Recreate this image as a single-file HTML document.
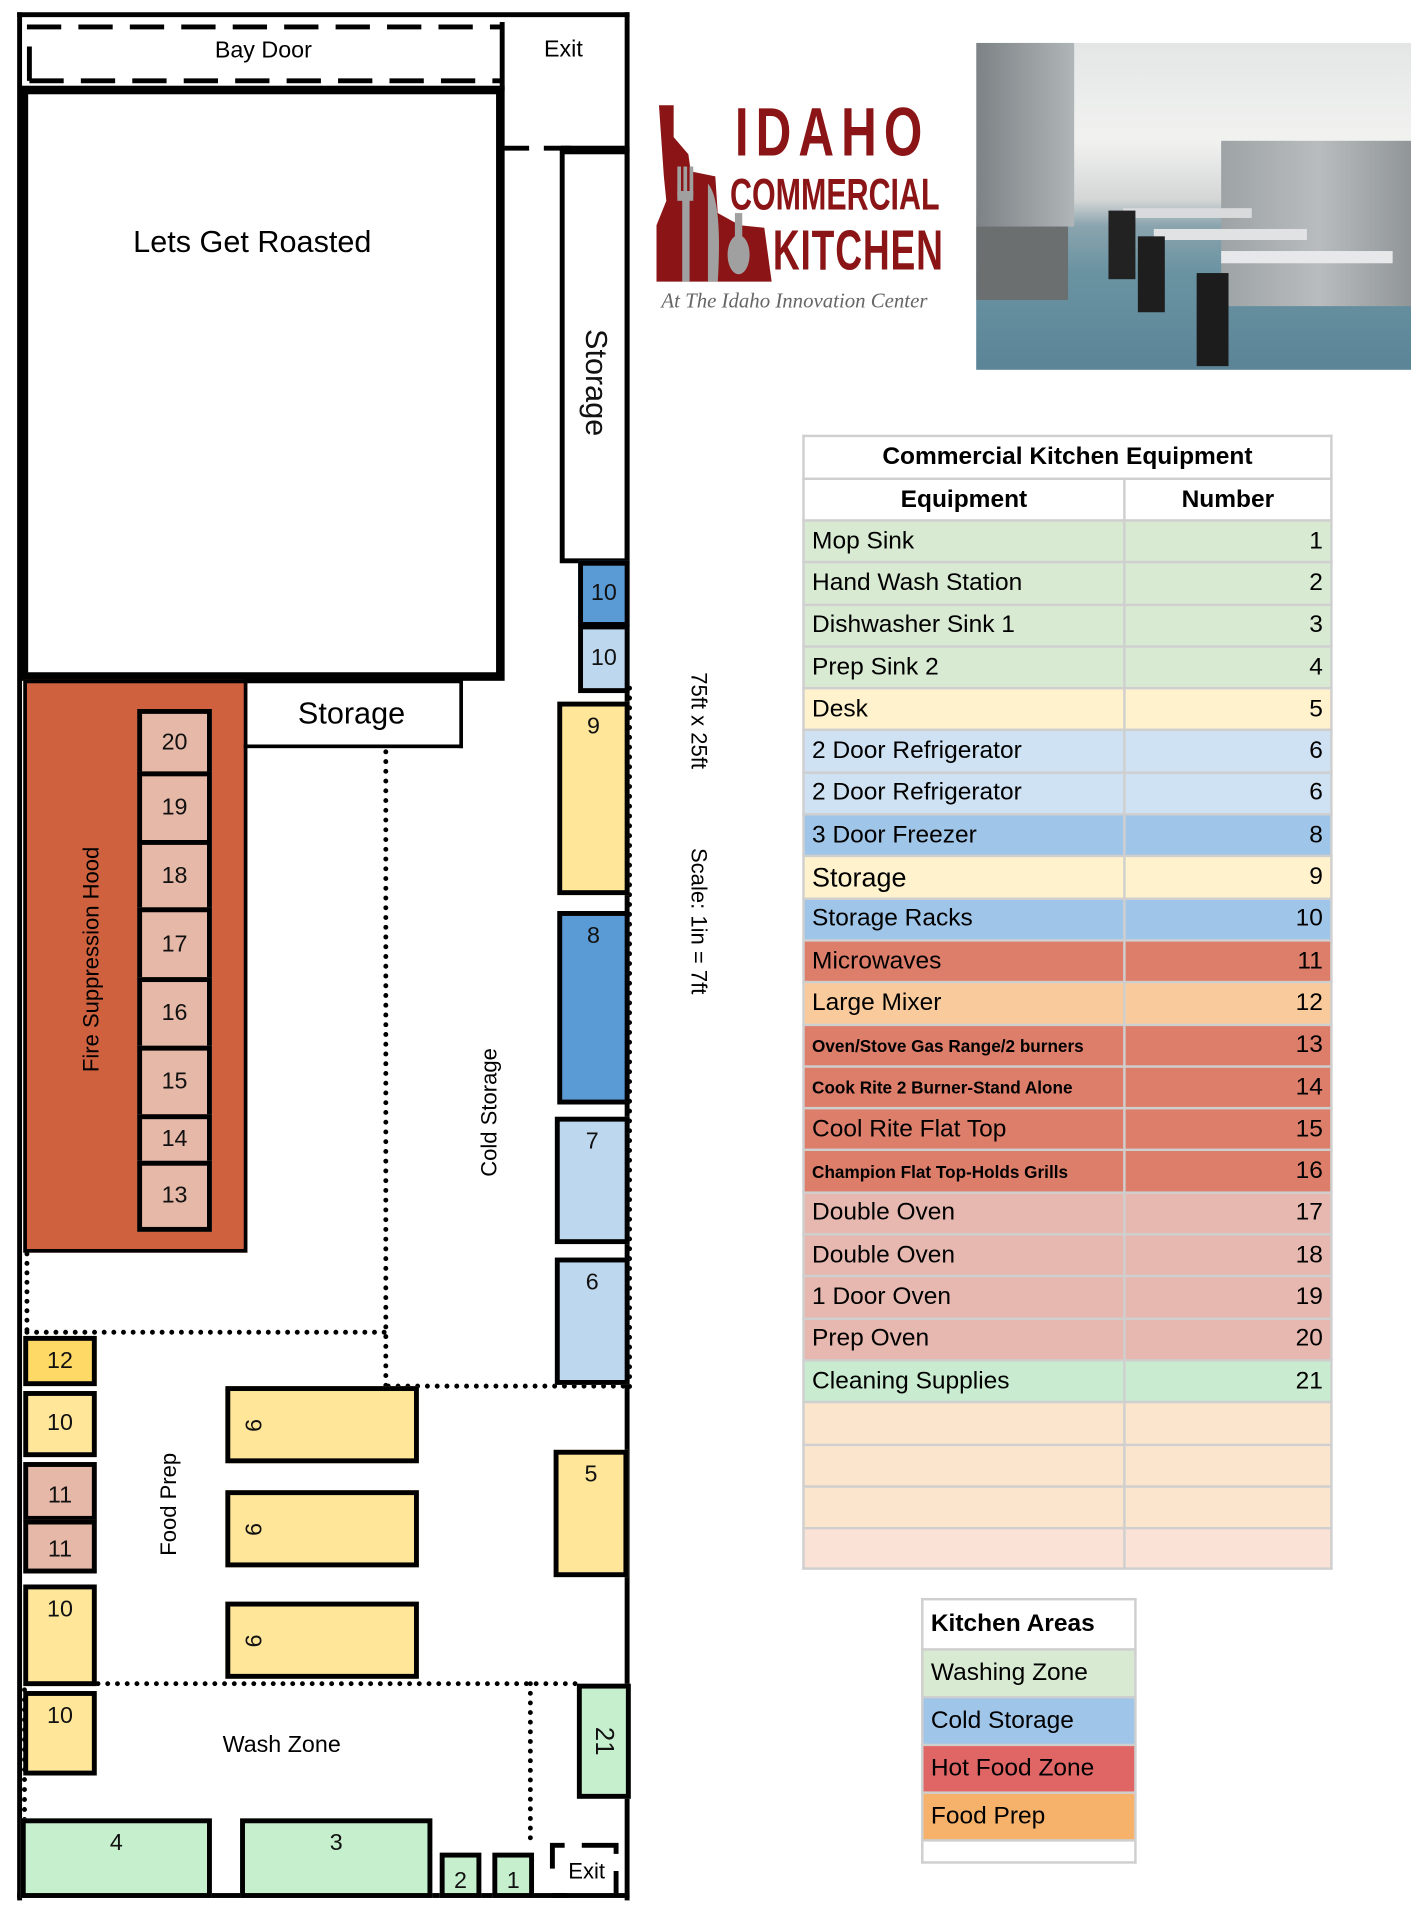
<!DOCTYPE html>
<html><head><meta charset="utf-8"><style>
html,body{margin:0;padding:0;background:#fff;width:1411px;height:1920px;overflow:hidden}
#w{position:absolute;left:0;top:0;width:1152px;height:1568px;transform:scale(1.22483,1.22449);transform-origin:0 0;font-family:"Liberation Sans",sans-serif}
.a{position:absolute;box-sizing:border-box}
.k{border:4px solid #000;display:flex;align-items:center;justify-content:center;font-size:19px;color:#111}
.t{align-items:flex-start;padding-top:6px}
.r90{transform:rotate(90deg);white-space:nowrap}
.rm{transform:rotate(-90deg);white-space:nowrap}
.dh{border-top:4px dotted #000;height:0}
.dv{border-left:4px dotted #000;width:0}
table{border-collapse:collapse;position:absolute}
td{border:2px solid #cfcfcf;padding:0 6px;font-size:20px;height:30.2px;box-sizing:border-box;white-space:nowrap}
td.n{text-align:right}
.sm{font-size:14px;font-weight:bold}
</style></head><body><div id="w">
<div class="a" style="left:14px;top:10px;width:4px;height:1542px;background:#000"></div>
<div class="a" style="left:14px;top:10px;width:500px;height:4px;background:#000"></div>
<div class="a" style="left:510px;top:10px;width:4px;height:1542px;background:#000"></div>
<div class="a" style="left:14px;top:1546px;width:500px;height:4px;background:#000"></div>
<svg class="a" style="left:0;top:0" width="520" height="130">
<path d="M24 66 L24 22 L410 22" fill="none" stroke="#000" stroke-width="4" stroke-dasharray="28,14"/>
<path d="M24 66 L410 66" fill="none" stroke="#000" stroke-width="4" stroke-dasharray="28,14"/>
<path d="M410 121 L470 121" fill="none" stroke="#000" stroke-width="4" stroke-dasharray="22,12"/>
</svg>
<div class="a" style="left:408px;top:18px;width:4px;height:56px;background:#000"></div>
<div class="a" style="left:0;top:31px;width:430px;text-align:center;font-size:19px">Bay Door</div>
<div class="a" style="left:420px;top:30px;width:80px;text-align:center;font-size:19px">Exit</div>
<div class="a" style="left:458px;top:119px;width:56px;height:5px;background:#000"></div>
<div class="a" style="left:16px;top:70px;width:396px;height:486px;border:7px solid #000"></div>
<div class="a" style="left:16px;top:184px;width:380px;text-align:center;font-size:25px">Lets Get Roasted</div>
<div class="a k" style="left:457px;top:122px;width:57px;height:338px;font-size:25px;align-items:flex-start;padding-top:172px"><span class="r90">Storage</span></div>
<div class="a k" style="left:472px;top:458px;width:42px;height:54px;background:#5b9bd5">10</div>
<div class="a k" style="left:472px;top:510px;width:42px;height:56px;background:#bdd7ee">10</div>
<div class="a" style="left:19px;top:555px;width:183px;height:468px;background:#d0613f;border:3px solid #000"></div>
<div class="a" style="left:-25px;top:773px;width:200px;text-align:center;font-size:18px" ><div class="rm">Fire Suppression Hood</div></div>
<div class="a k" style="left:112px;top:579px;width:61px;height:55px;background:#e6b8a7">20</div>
<div class="a k" style="left:112px;top:630px;width:61px;height:60px;background:#e6b8a7">19</div>
<div class="a k" style="left:112px;top:686px;width:61px;height:59px;background:#e6b8a7">18</div>
<div class="a k" style="left:112px;top:741px;width:61px;height:61px;background:#e6b8a7">17</div>
<div class="a k" style="left:112px;top:798px;width:61px;height:60px;background:#e6b8a7">16</div>
<div class="a k" style="left:112px;top:854px;width:61px;height:60px;background:#e6b8a7">15</div>
<div class="a k" style="left:112px;top:910px;width:61px;height:42px;background:#e6b8a7">14</div>
<div class="a k" style="left:112px;top:948px;width:61px;height:58px;background:#e6b8a7">13</div>
<div class="a" style="left:199px;top:555px;width:179px;height:56px;border:3px solid #000;border-left:none;display:flex;align-items:center;justify-content:center;font-size:25px">Storage</div>
<div class="a dv" style="left:313px;top:612px;height:522px"></div>
<div class="a dh" style="left:20px;top:1086px;width:296px"></div>
<div class="a dh" style="left:315px;top:1130px;width:196px"></div>
<div class="a dv" style="left:20px;top:1022px;height:66px"></div>
<div class="a" style="left:300px;top:898px;width:200px;text-align:center;font-size:18px"><div class="rm">Cold Storage</div></div>
<div class="a dv" style="left:512px;top:560px;height:575px"></div>
<div class="a k t" style="left:455px;top:573px;width:59px;height:158px;background:#ffe699">9</div>
<div class="a k t" style="left:455px;top:744px;width:59px;height:158px;background:#5b9bd5">8</div>
<div class="a k t" style="left:453px;top:912px;width:61px;height:104px;background:#bdd7ee">7</div>
<div class="a k t" style="left:453px;top:1027px;width:61px;height:104px;background:#bdd7ee">6</div>
<div class="a" style="left:520px;top:578px;width:100px;text-align:center;font-size:18px"><div class="r90">75ft x 25ft</div></div>
<div class="a" style="left:520px;top:732px;width:100px;text-align:center;font-size:18px"><div class="r90">Scale: 1in = 7ft</div></div>
<div class="a k" style="left:19px;top:1091px;width:60px;height:41px;background:#ffd966">12</div>
<div class="a k" style="left:19px;top:1136px;width:60px;height:54px;background:#ffe699">10</div>
<div class="a k" style="left:19px;top:1194px;width:60px;height:48px;background:#e6b8a7;padding-top:8px">11</div>
<div class="a k" style="left:19px;top:1241px;width:60px;height:44px;background:#e6b8a7;padding-top:6px">11</div>
<div class="a k t" style="left:19px;top:1294px;width:60px;height:83px;background:#ffe699">10</div>
<div class="a k t" style="left:19px;top:1381px;width:60px;height:69px;background:#ffe699">10</div>
<div class="a" style="left:88px;top:1218px;width:100px;text-align:center;font-size:18px"><div class="rm">Food Prep</div></div>
<div class="a k" style="left:184px;top:1132px;width:158px;height:63px;background:#ffe699;justify-content:flex-start;padding-left:12px"><span class="r90">9</span></div>
<div class="a k" style="left:184px;top:1217px;width:158px;height:63px;background:#ffe699;justify-content:flex-start;padding-left:12px"><span class="r90">9</span></div>
<div class="a k" style="left:184px;top:1308px;width:158px;height:63px;background:#ffe699;justify-content:flex-start;padding-left:12px"><span class="r90">9</span></div>
<div class="a k t" style="left:452px;top:1184px;width:61px;height:104px;background:#ffe699">5</div>
<div class="a dh" style="left:78px;top:1373px;width:394px"></div>
<div class="a dv" style="left:431px;top:1373px;height:130px"></div>
<div class="a dv" style="left:18px;top:1378px;height:110px"></div>
<div class="a" style="left:130px;top:1415px;width:200px;text-align:center;font-size:19px">Wash Zone</div>
<div class="a k" style="left:471px;top:1375px;width:44px;height:94px;background:#c6efce;font-size:21px"><span class="r90">21</span></div>
<div class="a k t" style="left:17px;top:1485px;width:156px;height:65px;background:#c6efce">4</div>
<div class="a k t" style="left:196px;top:1485px;width:157px;height:65px;background:#c6efce">3</div>
<div class="a k" style="left:359px;top:1513px;width:34px;height:37px;background:#c6efce;padding-top:10px">2</div>
<div class="a k" style="left:402px;top:1513px;width:34px;height:37px;background:#c6efce;padding-top:10px">1</div>
<svg class="a" style="left:445px;top:1500px" width="70" height="52">
<path d="M6 26 L6 7 L16 7 M30 7 L58 7 L58 14 M58 28 L58 48 M6 48 L18 48" fill="none" stroke="#000" stroke-width="4"/>
</svg>
<div class="a" style="left:450px;top:1518px;width:58px;text-align:center;font-size:18px">Exit</div>
<svg class="a" style="left:534px;top:84px" width="100" height="150" viewBox="0 0 100 150">
<path d="M4 2 L16 2 L16 28 L28 42 L30 56 L50 60 L52 90 L70 100 L90 102 L96 146 L2 146 L2 100 L10 80 L8 60 Z" fill="#8b1516"/>
<rect x="19" y="52" width="3" height="24" fill="#a0a0a0"/><rect x="24" y="52" width="3" height="24" fill="#a0a0a0"/><rect x="29" y="52" width="3" height="24" fill="#a0a0a0"/>
<rect x="19" y="72" width="13" height="8" fill="#a0a0a0"/>
<rect x="23" y="78" width="6" height="68" fill="#a0a0a0"/>
<path d="M44 66 Q56 80 52 146 L44 146 Z" fill="#a0a0a0"/>
<ellipse cx="69" cy="124" rx="9" ry="16" fill="#a0a0a0"/><rect x="66" y="90" width="6" height="20" fill="#a0a0a0"/>
</svg>
<div class="a" style="left:600px;top:80px;font-size:56px;font-weight:bold;color:#8b1516;letter-spacing:8px;transform:scaleX(.72);transform-origin:0 0;line-height:56px">IDAHO</div>
<div class="a" style="left:596px;top:140px;font-size:36px;font-weight:bold;color:#8b1516;transform:scaleX(.69);transform-origin:0 0;line-height:38px">COMMERCIAL</div>
<div class="a" style="left:631px;top:181px;font-size:46px;font-weight:bold;color:#8b1516;transform:scaleX(.66);transform-origin:0 0;line-height:46px;letter-spacing:1px">KITCHEN</div>
<div class="a" style="left:540px;top:236px;font-size:17px;font-style:italic;color:#666;font-family:'Liberation Serif',serif">At The Idaho Innovation Center</div>
<div class="a" style="left:797px;top:35px;width:356px;height:267px;overflow:hidden;background:linear-gradient(180deg,#e4e6e6 0%,#f1f2f0 30%,#d4d6d6 48%,#8aa4ae 56%,#6a93a2 70%,#5b8597 100%)">
<div class="a" style="left:0;top:0;width:80px;height:150px;background:linear-gradient(90deg,#7d8286,#b0b5b8)"></div>
<div class="a" style="left:0;top:150px;width:75px;height:60px;background:#6c6f70"></div>
<div class="a" style="left:200px;top:80px;width:160px;height:135px;background:linear-gradient(90deg,#9ea3a6,#b8bcbe,#8e9396)"></div>
<div class="a" style="left:120px;top:135px;width:105px;height:8px;background:#d8dadb"></div>
<div class="a" style="left:145px;top:152px;width:125px;height:9px;background:#e0e2e3"></div>
<div class="a" style="left:200px;top:170px;width:140px;height:10px;background:#e6e8e9"></div>
<div class="a" style="left:108px;top:137px;width:22px;height:56px;background:#222"></div>
<div class="a" style="left:132px;top:158px;width:22px;height:62px;background:#1e1e1e"></div>
<div class="a" style="left:180px;top:188px;width:26px;height:76px;background:#1c1c1c"></div>
</div>
<table style="left:655px;top:355px;width:433px">
<tr><td colspan="2" style="text-align:center;font-weight:bold;height:35px;background:#fff">Commercial Kitchen Equipment</td></tr>
<tr><td style="text-align:center;font-weight:bold;width:262px;height:34px">Equipment</td><td style="text-align:center;font-weight:bold">Number</td></tr>
<tr style="background:#d9ead3"><td style="height:34.3px">Mop Sink</td><td class="n">1</td></tr>
<tr style="background:#d9ead3"><td style="height:34.3px">Hand Wash Station</td><td class="n">2</td></tr>
<tr style="background:#d9ead3"><td style="height:34.3px">Dishwasher Sink 1</td><td class="n">3</td></tr>
<tr style="background:#d9ead3"><td style="height:34.3px">Prep Sink 2</td><td class="n">4</td></tr>
<tr style="background:#fff2cc"><td style="height:34.3px">Desk</td><td class="n">5</td></tr>
<tr style="background:#cfe2f3"><td style="height:34.3px">2 Door Refrigerator</td><td class="n">6</td></tr>
<tr style="background:#cfe2f3"><td style="height:34.3px">2 Door Refrigerator</td><td class="n">6</td></tr>
<tr style="background:#9fc5e8"><td style="height:34.3px">3 Door Freezer</td><td class="n">8</td></tr>
<tr style="background:#fff2cc"><td style="height:34.3px;font-size:22px">Storage</td><td class="n">9</td></tr>
<tr style="background:#9fc5e8"><td style="height:34.3px">Storage Racks</td><td class="n">10</td></tr>
<tr style="background:#dd7e6b"><td style="height:34.3px">Microwaves</td><td class="n">11</td></tr>
<tr style="background:#f9cb9c"><td style="height:34.3px">Large Mixer</td><td class="n">12</td></tr>
<tr style="background:#dd7e6b"><td class="sm" style="height:34.3px">Oven/Stove Gas Range/2 burners</td><td class="n">13</td></tr>
<tr style="background:#dd7e6b"><td class="sm" style="height:34.3px">Cook Rite 2 Burner-Stand Alone</td><td class="n">14</td></tr>
<tr style="background:#dd7e6b"><td style="height:34.3px">Cool Rite Flat Top</td><td class="n">15</td></tr>
<tr style="background:#dd7e6b"><td class="sm" style="height:34.3px">Champion Flat Top-Holds Grills</td><td class="n">16</td></tr>
<tr style="background:#e6b8af"><td style="height:34.3px">Double Oven</td><td class="n">17</td></tr>
<tr style="background:#e6b8af"><td style="height:34.3px">Double Oven</td><td class="n">18</td></tr>
<tr style="background:#e6b8af"><td style="height:34.3px">1 Door Oven</td><td class="n">19</td></tr>
<tr style="background:#e6b8af"><td style="height:34.3px">Prep Oven</td><td class="n">20</td></tr>
<tr style="background:#c9ecd0"><td style="height:34.3px">Cleaning Supplies</td><td class="n">21</td></tr>
<tr style="background:#fce5cd"><td style="height:34.3px"></td><td></td></tr>
<tr style="background:#fce5cd"><td style="height:34.3px"></td><td></td></tr>
<tr style="background:#fce5cd"><td style="height:34.3px"></td><td></td></tr>
<tr style="background:#fbe2d6"><td style="height:33px"></td><td></td></tr>
</table>
<table style="left:752px;top:1305px;width:176px">
<tr><td style="font-weight:bold;height:41px">Kitchen Areas</td></tr>
<tr style="background:#d9ead3"><td style="height:39px">Washing Zone</td></tr>
<tr style="background:#9fc5e8"><td style="height:39px">Cold Storage</td></tr>
<tr style="background:#e06666"><td style="height:39px">Hot Food Zone</td></tr>
<tr style="background:#f6b26b"><td style="height:39px">Food Prep</td></tr>
<tr><td style="height:18px"></td></tr>
</table>
</div></body></html>
